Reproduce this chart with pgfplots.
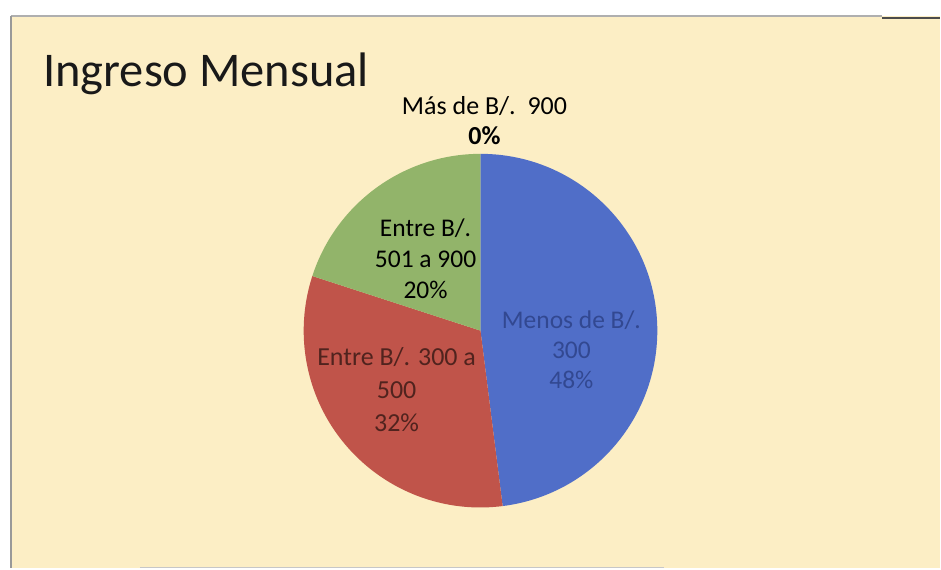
\documentclass[border=0pt]{standalone}
\usepackage{pgfplots}
\pgfplotsset{compat=1.18}
\usepackage{pgfplotstable}
\usepackage{fontspec}
\setmainfont{Carlito}
\definecolor{bg}{RGB}{252,238,197}
\definecolor{sblue}{RGB}{80,110,200}
\definecolor{sred}{RGB}{192,84,74}
\definecolor{sgreen}{RGB}{146,180,106}
\definecolor{tblue}{RGB}{50,72,145}
\definecolor{tred}{RGB}{80,35,30}
\definecolor{frame}{RGB}{175,175,175}

% share of each income band, in percent
\pgfplotstableread{
band pct
menos300 48
e300a500 32
e501a900 20
mas900 0
}\piedata

\pgfplotstablegetelem{0}{pct}\of\piedata \pgfmathsetmacro\aA{90-3.6*\pgfplotsretval}
\pgfplotstablegetelem{1}{pct}\of\piedata \pgfmathsetmacro\aB{\aA-3.6*\pgfplotsretval}
\pgfplotstablegetelem{2}{pct}\of\piedata \pgfmathsetmacro\aC{\aB-3.6*\pgfplotsretval}
\pgfplotstablegetelem{3}{pct}\of\piedata \pgfmathsetmacro\aD{\aC-3.6*\pgfplotsretval}

\begin{document}
\begin{tikzpicture}
\begin{axis}[
  x=1pt, y=1pt, y dir=reverse,
  xmin=0, xmax=941, ymin=0, ymax=569,
  hide axis, clip=false, scale only axis,
]
\fill[white] (axis cs:0,0) rectangle (axis cs:941,569);
\fill[bg] (axis cs:11,16) rectangle (axis cs:941,569);
\draw[frame, line width=2pt] (axis cs:11,16) -- (axis cs:883,16);
\draw[black!70, line width=2pt] (axis cs:883,18.5) -- (axis cs:941,18.5);
\draw[gray!80, line width=1.5pt] (axis cs:11,16) -- (axis cs:11,569);
\draw[frame!70, line width=1.2pt] (axis cs:140,568) -- (axis cs:665,568);

\def\R{177pt}
\fill[sblue] (axis cs:481,331) -- ++(90:\R) arc[start angle=90, end angle=\aA, radius=\R] -- cycle;
\fill[sred] (axis cs:481,331) -- ++(\aA:\R) arc[start angle=\aA, end angle=\aB, radius=\R] -- cycle;
\fill[sgreen] (axis cs:481,331) -- ++(\aB:\R) arc[start angle=\aB, end angle=\aC, radius=\R] -- cycle;

\node[anchor=base west, inner sep=0pt, font=\fontsize{48.5}{54}\selectfont, text=black!90]
  at (axis cs:43,87) {Ingreso Mensual};

\node[align=center, inner sep=0pt, font=\fontsize{26}{30}\selectfont, text=black]
  at (axis cs:485,121) {Más de B/.\ \ 900\\ \textbf{0\%}};
\node[align=center, inner sep=0pt, font=\fontsize{25.5}{31}\selectfont, text=black]
  at (axis cs:426,259) {Entre B/.\\501 a 900\\20\%};
\node[align=center, inner sep=0pt, font=\fontsize{26}{33}\selectfont, text=tred]
  at (axis cs:397,390) {Entre B/. 300 a\\500\\32\%};
\node[align=center, inner sep=0pt, font=\fontsize{25.5}{30}\selectfont, text=tblue]
  at (axis cs:572,350) {Menos de B/.\\300\\48\%};
\end{axis}
\end{tikzpicture}
\end{document}
